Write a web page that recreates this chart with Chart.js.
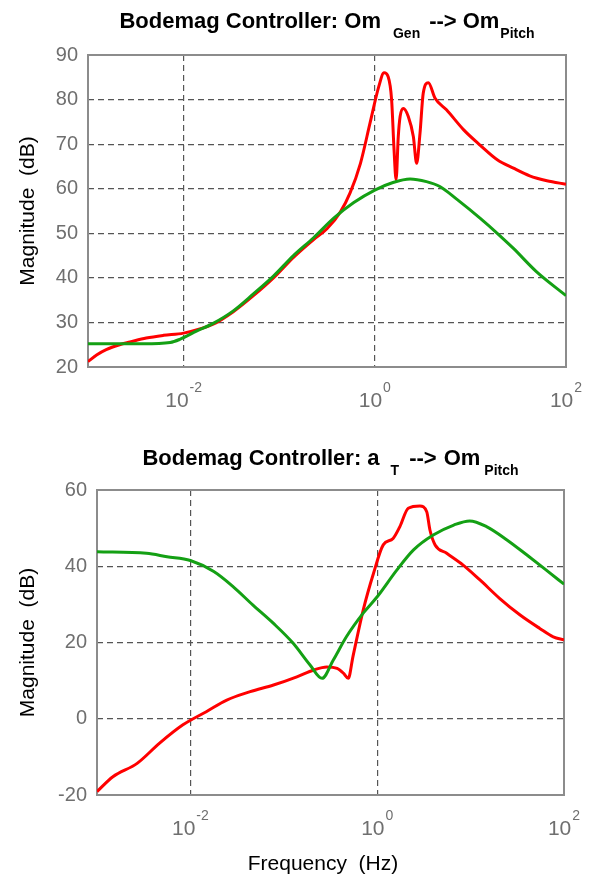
<!DOCTYPE html>
<html>
<head>
<meta charset="utf-8">
<script src="https://cdn.jsdelivr.net/npm/chart.js@4.4.1/dist/chart.umd.min.js"></script>
<style>
body { margin: 0; background: #fff; }
#wrap { position: relative; width: 595px; height: 879px; }
canvas { position: absolute; left: 0; }
</style>
</head>
<body>
<div id="wrap">
<canvas id="topChart" width="595" height="420" style="top:0"></canvas>
<canvas id="botChart" width="595" height="459" style="top:420px"></canvas>
</div>
<script>
// x ticks (Hz) and their exponent labels
let xTicks = [0.001, 0.01, 1, 100];
let xTickExp = [-2, 0, 2];

// top plot: Om_Gen --> Om_Pitch
let genRedFreq = [0.001, 0.00123, 0.00155, 0.00214, 0.00275, 0.00407, 0.00617, 0.01, 0.0204, 0.0331,
  0.0537, 0.0871, 0.141, 0.229, 0.316, 0.437, 0.55, 0.708, 0.891, 1.1, 1.25, 1.38, 1.5, 1.59, 1.67,
  1.76, 1.84, 1.99, 2.24, 2.53, 2.74, 2.97, 3.21, 3.63, 4.27, 5.62, 8.51, 12.6, 19.1, 28.2, 41.7, 63.1, 100];
let genRedMag = [21.2, 22.7, 23.9, 25.0, 25.6, 26.5, 27.1, 27.6, 29.6, 32.4,
  36.0, 40.0, 44.6, 48.6, 51.0, 54.8, 59.0, 65.7, 74.7, 82.9, 86.0, 85.1, 79.9, 68.7, 62.0,
  71.7, 76.2, 78.0, 76.2, 71.7, 65.7, 72.4, 81.4, 83.8, 80.3, 77.7, 73.2, 69.8, 66.5, 64.6, 62.9, 61.8, 61.0];
let genGreenFreq = [0.001, 0.0038, 0.00724, 0.00912, 0.0138, 0.0204, 0.0331, 0.0537, 0.0871, 0.141,
  0.229, 0.372, 0.603, 1.0, 1.55, 2.34, 3.47, 4.79, 7.24, 12.6, 19.1, 28.2, 49.0, 100];
let genGreenMag = [25.2, 25.2, 25.5, 26.2, 28.1, 29.8, 32.6, 36.4, 40.4, 45.0,
  49.0, 53.4, 56.9, 59.7, 61.4, 62.2, 61.6, 60.5, 57.6, 53.4, 50.0, 46.6, 41.4, 36.0];

// bottom plot: a_T --> Om_Pitch
let aRedFreq = [0.001, 0.00148, 0.00269, 0.00468, 0.00832, 0.0148, 0.0245, 0.0437, 0.0776, 0.138,
  0.209, 0.288, 0.372, 0.437, 0.49, 0.55, 0.708, 0.912, 1.16, 1.48, 1.75, 2.15, 2.87, 3.39, 3.67,
  4.17, 5.55, 8.32, 12.6, 20.4, 33.9, 55.0, 76.7, 100];
let aRedMag = [-19.1, -15.2, -11.7, -6.4, -1.6, 1.85, 4.9, 7.1, 8.85, 11.0,
  12.8, 13.6, 13.2, 11.9, 10.6, 16.3, 28.5, 38.1, 45.6, 47.3, 50.4, 55.2, 55.8, 54.3, 49.5,
  45.6, 43.4, 40.3, 36.4, 31.6, 27.2, 23.7, 21.5, 20.7];
let aGreenFreq = [0.001, 0.00339, 0.00562, 0.01, 0.0178, 0.0288, 0.0468, 0.0776, 0.126, 0.191,
  0.257, 0.339, 0.468, 0.708, 1.0, 1.62, 2.45, 3.98, 6.61, 9.77, 14.8, 24.5, 39.8, 64.6, 100];
let aGreenMag = [43.8, 43.4, 42.5, 41.5, 38.6, 34.6, 29.8, 25.0, 19.8, 14.1,
  10.6, 15.4, 21.5, 27.7, 32.0, 39.0, 44.3, 48.2, 50.8, 51.9, 50.4, 46.9, 43.0, 39.0, 35.3];

const fam = "'Liberation Sans', Arial, sans-serif";
const tickColor = '#6f6f6f';
const mainFont = 'bold 22px ' + fam;
const subFont = 'bold 14px ' + fam;

function pts(xs, ys) {
  return xs.map((x, i) => ({x: x, y: ys[i]}));
}

function decor(titleParts, titleY, xTitleX) {
  return {
    id: 'decor',
    beforeDatasetsDraw(chart) {
      const a = chart.chartArea, ctx = chart.ctx;
      ctx.save();
      ctx.strokeStyle = '#8c8c8c';
      ctx.lineWidth = 2;
      ctx.strokeRect(a.left, a.top, a.right - a.left, a.bottom - a.top);
      ctx.restore();
    },
    afterDraw(chart) {
      const a = chart.chartArea, ctx = chart.ctx;
      ctx.save();
      ctx.textAlign = 'left';
      ctx.textBaseline = 'alphabetic';
      // title with subscripts, gaps
      let w = 0;
      titleParts.forEach(p => {
        ctx.font = p.sub ? subFont : mainFont;
        p.w = ctx.measureText(p.t).width;
        w += p.w + (p.gap || 0);
      });
      let x = (a.left + a.right) / 2 - w / 2;
      ctx.fillStyle = '#000';
      titleParts.forEach(p => {
        x += p.gap || 0;
        ctx.font = p.sub ? subFont : mainFont;
        ctx.fillText(p.t, x, p.sub ? titleY + 10 : titleY);
        x += p.w;
      });
      // x tick labels 10^n
      ctx.fillStyle = tickColor;
      const base = a.bottom + 40;
      xTickExp.forEach(e => {
        const px = chart.scales.x.getPixelForValue(Math.pow(10, e));
        ctx.font = '21px ' + fam;
        const w1 = ctx.measureText('10').width;
        ctx.font = '14px ' + fam;
        const w2 = ctx.measureText(String(e)).width;
        const left = px - (w1 + w2 + 1) / 2;
        ctx.font = '21px ' + fam;
        ctx.fillText('10', left, base);
        ctx.font = '14px ' + fam;
        ctx.fillText(String(e), left + w1 + 1, base - 15);
      });
      if (xTitleX) {
        ctx.fillStyle = '#000';
        ctx.textAlign = 'center';
        ctx.font = '21px ' + fam;
        ctx.fillText('Frequency  (Hz)', xTitleX, chart.height - 9);
      }
      ctx.restore();
    }
  };
}

function makeChart(id, c) {
  return new Chart(document.getElementById(id), {
    type: 'line',
    data: {
      datasets: [
        { data: pts(c.gx, c.gy), borderColor: '#14a014', borderWidth: 3, pointRadius: 0,
          cubicInterpolationMode: 'monotone', order: 1 },
        { data: pts(c.rx, c.ry), borderColor: '#ff0000', borderWidth: 3, pointRadius: 0,
          cubicInterpolationMode: 'monotone', order: 2 }
      ]
    },
    options: {
      responsive: false,
      animation: false,
      events: [],
      layout: { padding: { top: c.padTop, right: c.padRight, left: 0, bottom: 0 } },
      plugins: { legend: { display: false }, tooltip: { enabled: false } },
      scales: {
        x: {
          type: 'logarithmic', min: 0.001, max: 100,
          afterBuildTicks: s => { s.ticks = xTicks.map(v => ({value: v})); },
          afterFit: s => { s.height = c.xHeight; },
          ticks: { display: false },
          grid: { color: '#555', lineWidth: 1.2, drawTicks: false },
          border: { display: false, dash: [6, 4] }
        },
        y: {
          min: c.ymin, max: c.ymax,
          afterFit: s => { s.width = c.yWidth; },
          ticks: { stepSize: c.step, color: tickColor, font: { size: 20, family: fam }, padding: 10 },
          grid: { color: '#555', lineWidth: 1.2, drawTicks: false },
          border: { display: false, dash: [6, 4] },
          title: { display: true, text: 'Magnitude  (dB)', color: '#000',
            font: { size: 21, family: fam }, padding: { top: 16 } }
        }
      }
    },
    plugins: [decor(c.title, c.titleY, c.xTitleX)]
  });
}

makeChart('topChart', {
  gx: genGreenFreq, gy: genGreenMag, rx: genRedFreq, ry: genRedMag,
  padTop: 55, padRight: 29, xHeight: 53, yWidth: 88,
  ymin: 20, ymax: 90, step: 10, titleY: 28,
  title: [{t: 'Bodemag Controller: Om'}, {t: 'Gen', sub: true, gap: 12}, {t: '-->', gap: 9},
    {t: 'Om', gap: 6}, {t: 'Pitch', sub: true, gap: 1}]
});

makeChart('botChart', {
  gx: aGreenFreq, gy: aGreenMag, rx: aRedFreq, ry: aRedMag,
  padTop: 70, padRight: 31, xHeight: 84, yWidth: 97,
  ymin: -20, ymax: 60, step: 20, titleY: 45, xTitleX: 323,
  title: [{t: 'Bodemag Controller: a'}, {t: 'T', sub: true, gap: 11}, {t: '-->', gap: 10},
    {t: 'Om', gap: 7}, {t: 'Pitch', sub: true, gap: 4}]
});
</script>
</body>
</html>
